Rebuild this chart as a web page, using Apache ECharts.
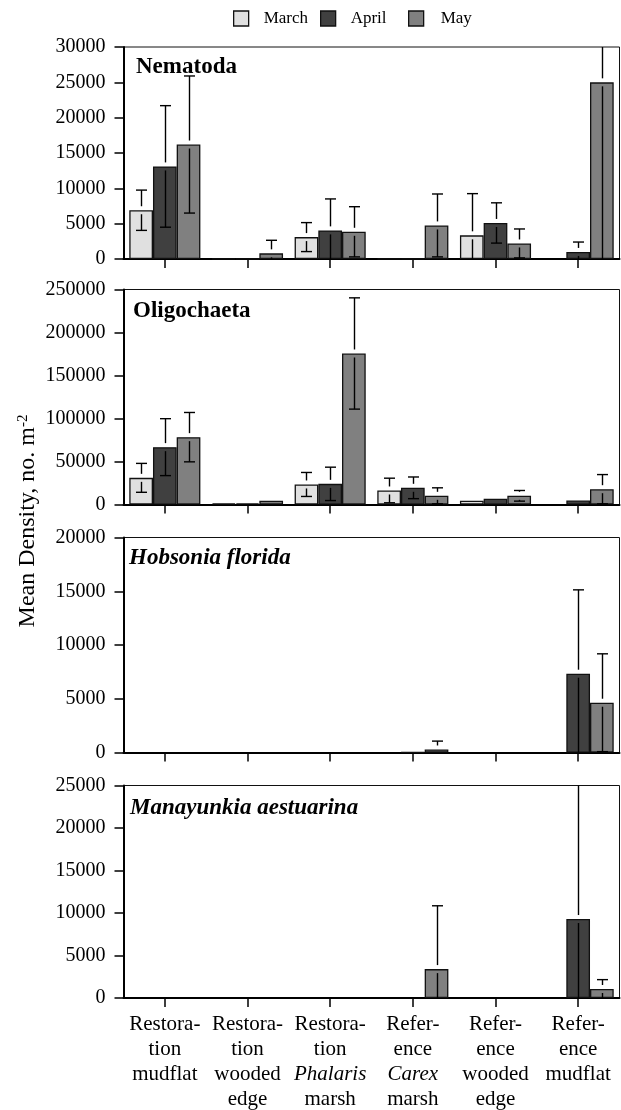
<!DOCTYPE html>
<html><head><meta charset="utf-8">
<script src="https://cdn.jsdelivr.net/npm/echarts@6/dist/echarts.min.js"></script>
<style>html,body{margin:0;padding:0;background:#fff}#c{width:621px;height:1110px}</style>
</head><body><div id="c"></div>
<script>
// ---------- data ----------
const categories = ['Restora-\ntion\nmudflat', 'Restora-\ntion\nwooded\nedge', 'Restora-\ntion\nPhalaris\nmarsh',
  'Refer-\nence\nCarex\nmarsh', 'Refer-\nence\nwooded\nedge', 'Refer-\nence\nmudflat'];
const italicWords = ['Phalaris', 'Carex'];
const months = ['March', 'April', 'May'];
const monthColors = ['#e0e0e0', '#404040', '#808080'];

const panelTitles = ['Nematoda', 'Oligochaeta', 'Hobsonia florida', 'Manayunkia aestuarina'];
const yMax = [30000, 250000, 20000, 25000];
const yInterval = [5000, 50000, 5000, 5000];

const nematodaMarch = [6900, 60, 3100, 60, 3350, null];
const nematodaApril = [13100, 60, 4050, 60, 5100, 1000];
const nematodaMay   = [16200, 800, 3850, 4750, 2200, 25000];
const nematodaMarchSE = [2850, null, 2050, null, 5900, null];
const nematodaAprilSE = [8600, null, 4450, null, 2850, 1400];
const nematodaMaySE   = [9700, 1850, 3550, 4450, 2050, 26000];

const oligoMarch = [31000, 1200, 23300, 16300, 4300, null];
const oligoApril = [66700, 1500, 24000, 19400, 6600, 4650];
const oligoMay   = [78300, 4300, 175600, 10100, 10100, 17800];
const oligoMarchSE = [16800, null, 13950, 14300, null, null];
const oligoAprilSE = [33100, null, 19400, 12600, null, null];
const oligoMaySE   = [28700, null, 64700, 9300, 6200, 17000];

const hobsMarch = [null, null, null, null, null, null];
const hobsApril = [null, null, null, 20, null, 7330];
const hobsMay   = [null, null, null, 280, null, 4630];
const hobsMarchSE = [null, null, null, null, null, null];
const hobsAprilSE = [null, null, null, null, null, 7800];
const hobsMaySE   = [null, null, null, 780, null, 4550];

const manaMarch = [null, null, null, null, null, null];
const manaApril = [null, null, null, null, null, 9290];
const manaMay   = [null, null, null, 3400, null, 1060];
const manaMarchSE = [null, null, null, null, null, null];
const manaAprilSE = [null, null, null, null, null, 17000];
const manaMaySE   = [null, null, null, 7450, null, 1100];

// ---------- layout ----------
const FONT = '"Liberation Serif", "Times New Roman", serif';
const GRID_LEFT = 123.5, GRID_WIDTH = 496;
const BAR_CAT_GAP = 0.14;
const panels = [
  {means: [nematodaMarch, nematodaApril, nematodaMay], ses: [nematodaMarchSE, nematodaAprilSE, nematodaMaySE],
   top: 47, height: 212, italic: false, tLeft: 136, tTop: 54},
  {means: [oligoMarch, oligoApril, oligoMay], ses: [oligoMarchSE, oligoAprilSE, oligoMaySE],
   top: 289.5, height: 215, italic: false, tLeft: 133, tTop: 298},
  {means: [hobsMarch, hobsApril, hobsMay], ses: [hobsMarchSE, hobsAprilSE, hobsMaySE],
   top: 537.5, height: 215, italic: true, tLeft: 129, tTop: 545},
  {means: [manaMarch, manaApril, manaMay], ses: [manaMarchSE, manaAprilSE, manaMaySE],
   top: 785.5, height: 213, italic: true, tLeft: 130, tTop: 795}
];

const chart = echarts.init(document.getElementById('c'), null, {renderer: 'canvas'});

const grid = [], xAxis = [], yAxis = [], series = [], title = [];
panels.forEach((p, pi) => {
  grid.push({left: GRID_LEFT, width: GRID_WIDTH, top: p.top, height: p.height,
    show: true, borderColor: '#111', borderWidth: 1, backgroundColor: 'transparent', containLabel: false});
  const last = pi === panels.length - 1;
  xAxis.push({type: 'category', gridIndex: pi, data: categories, boundaryGap: true,
    axisLine: {show: true, lineStyle: {color: '#000', width: 2}},
    axisTick: {show: true, alignWithLabel: true, length: 9, lineStyle: {color: '#000', width: 1.5}},
    splitLine: {show: false},
    axisLabel: {show: last, interval: 0, margin: 14,
      formatter: v => v.split('\n').map(l => (italicWords.includes(l) ? '{i|' : '{n|') + l + '}').join('\n'),
      rich: {
        n: {fontFamily: FONT, fontSize: 21, lineHeight: 25, color: '#000'},
        i: {fontFamily: FONT, fontSize: 21, lineHeight: 25, color: '#000', fontStyle: 'italic'}
      }}
  });
  yAxis.push({type: 'value', gridIndex: pi, min: 0, max: yMax[pi], interval: yInterval[pi],
    axisLine: {show: true, lineStyle: {color: '#000', width: 2}},
    axisTick: {show: true, length: 9, lineStyle: {color: '#000', width: 1.5}},
    splitLine: {show: false},
    axisLabel: {fontFamily: FONT, fontSize: 20, color: '#000', margin: 18, formatter: v => String(v)}
  });
  title.push({text: panelTitles[pi], left: p.tLeft, top: p.tTop, padding: 0,
    textStyle: {fontFamily: FONT, fontSize: 23, fontWeight: 'bold', fontStyle: p.italic ? 'italic' : 'normal',
      color: '#000', lineHeight: 26}});

  months.forEach((m, mi) => {
    series.push({name: m, type: 'bar', xAxisIndex: pi, yAxisIndex: pi,
      data: p.means[mi], barGap: '0%', barCategoryGap: (BAR_CAT_GAP * 100) + '%',
      itemStyle: {color: monthColors[mi], borderColor: '#111', borderWidth: 1.3},
      emphasis: {disabled: true}, animation: false, z: 2});
  });
  months.forEach((m, mi) => {
    const d = [];
    p.means[mi].forEach((v, ci) => {
      const s = p.ses[mi][ci];
      if (v != null && s != null) d.push([ci, v, s]);
    });
    const maxV = yMax[pi];
    series.push({type: 'custom', xAxisIndex: pi, yAxisIndex: pi, data: d, z: 5, animation: false,
      silent: true, clip: false,
      renderItem: (params, api) => {
        const ci = api.value(0), mv = api.value(1), sv = api.value(2);
        const band = api.size([1, 0])[0];
        const bw = band * (1 - BAR_CAT_GAP) / 3;
        const x = Math.round(api.coord([ci, 0])[0] + (mi - 1) * bw) + 0.5;
        const yM = api.coord([ci, mv])[1];
        const hi = Math.min(mv + sv, maxV), lo = Math.max(mv - sv, 0);
        const yHi = api.coord([ci, hi])[1], yLo = api.coord([ci, lo])[1];
        const st = {stroke: '#000', lineWidth: 1.4};
        const ch = [];
        const gap = 4, cap = 5.5;
        if (yHi < yM - gap) ch.push({type: 'line', shape: {x1: x, y1: yM - gap, x2: x, y2: yHi}, style: st});
        if (mv + sv <= maxV) ch.push({type: 'line', shape: {x1: x - cap, y1: yHi, x2: x + cap, y2: yHi}, style: st});
        if (yLo > yM + gap) ch.push({type: 'line', shape: {x1: x, y1: yM + gap, x2: x, y2: yLo}, style: st});
        if (mv - sv >= 0 && yLo > yM + gap) ch.push({type: 'line', shape: {x1: x - cap, y1: yLo, x2: x + cap, y2: yLo}, style: st});
        return {type: 'group', children: ch};
      }});
  });
});

const legendLefts = [233, 320, 408];
const legendTextGaps = [10, 10, 12];
const legend = months.map((m, mi) => ({
  data: [m], left: legendLefts[mi], top: 10, padding: 0, icon: 'rect', itemWidth: 15, itemHeight: 15,
  itemStyle: {borderColor: '#111', borderWidth: 1.3},
  selectedMode: false,
  formatter: n => '{g|}{t|' + n + '}',
  textStyle: {fontFamily: FONT, fontSize: 17, color: '#000',
    rich: {g: {width: legendTextGaps[mi]}, t: {fontFamily: FONT, fontSize: 17, color: '#000'}}}
}));

chart.setOption({
  animation: false,
  backgroundColor: '#fff',
  title, grid, xAxis, yAxis, series, legend,
  graphic: [{type: 'text', x: 28, y: 521, rotation: Math.PI / 2,
    style: {text: 'Mean Density, no. m{sup|-2}', fill: '#000', fontFamily: FONT, fontSize: 24,
      align: 'center', verticalAlign: 'middle',
      rich: {sup: {fontFamily: FONT, fontSize: 15, fill: '#000', verticalAlign: 'top'}}}}]
});
</script></body></html>
